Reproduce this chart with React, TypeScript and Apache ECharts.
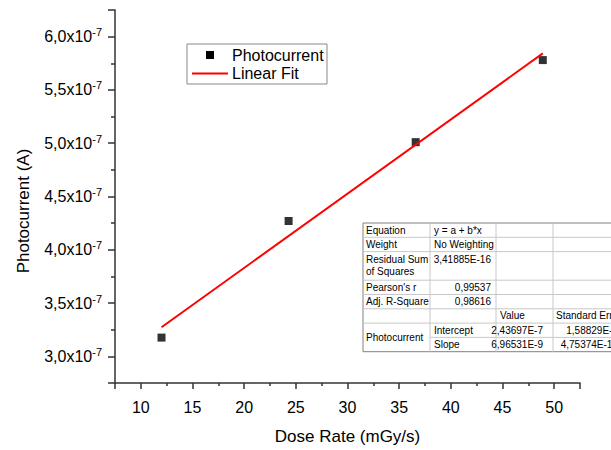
import React, { useEffect, useRef } from 'react';
import * as echarts from 'echarts';

const doseRate = [12, 24.3, 36.6, 48.9];
const photocurrent = [3.176e-7, 4.27e-7, 5.01e-7, 5.78e-7];
const fitDose = [12, 48.9];
const fitCurrent = [3.273e-7, 5.843e-7];
const legendNames = ['Photocurrent', 'Linear Fit'];
const xTitle = 'Dose Rate (mGy/s)';
const yTitle = 'Photocurrent (A)';
const statLabels = ['Equation', 'Weight', 'Residual Sum\nof Squares', "Pearson's r", 'Adj. R-Square'];
const statValues = ['y = a + b*x', 'No Weighting', '3,41885E-16', '0,99537', '0,98616'];
const paramHeader = ['Value', 'Standard Error'];
const paramGroup = 'Photocurrent';
const paramNames = ['Intercept', 'Slope'];
const paramValues = ['2,43697E-7', '6,96531E-9'];
const paramErrors = ['1,58829E-8', '4,75374E-10'];

const FONT = "Arial, 'Liberation Sans', sans-serif";

function buildTable(): any[] {
  const rows = [223, 237.3, 251.6, 280.2, 294.5, 308.8, 323.1, 337.4, 351.7];
  const cols = [363, 430, 496, 553, 640];
  const els: any[] = [];
  const inner = { stroke: '#c8c8c8', lineWidth: 1 };
  els.push({ type: 'rect', shape: { x: cols[0], y: rows[0], width: cols[4] - cols[0], height: rows[8] - rows[0] }, style: { fill: '#fff', stroke: '#808080', lineWidth: 1 }, z: 10 });
  for (let i = 1; i < rows.length - 1; i++) {
    const x0 = i === 7 ? cols[1] : cols[0];
    els.push({ type: 'line', shape: { x1: x0, y1: rows[i], x2: cols[4], y2: rows[i] }, style: inner, z: 11 });
  }
  for (let j = 1; j < 4; j++) {
    els.push({ type: 'line', shape: { x1: cols[j], y1: rows[0], x2: cols[j], y2: rows[8] }, style: inner, z: 11 });
  }
  const txt = (s: string, x: number, y: number, align: string = 'left', va: string = 'middle') => ({
    type: 'text', x, y, z: 12,
    style: { text: s, fill: '#000', font: `10px ${FONT}`, textAlign: align, textVerticalAlign: va, lineHeight: 12 },
  });
  for (let i = 0; i < statLabels.length; i++) {
    const top = rows[i], bot = rows[i + 1];
    const mid = (top + bot) / 2;
    els.push(txt(statLabels[i], cols[0] + 3, mid));
    const vy = i === 2 ? top + 7.5 : mid;
    if (i < 2) els.push(txt(statValues[i], cols[1] + 4, vy));
    else els.push(txt(statValues[i], cols[2] - 5, vy, 'right'));
  }
  const hm = (rows[5] + rows[6]) / 2;
  els.push(txt(paramHeader[0], cols[2] + 4, hm));
  els.push(txt(paramHeader[1], cols[3] + 3, hm));
  els.push(txt(paramGroup, cols[0] + 3, rows[7]));
  for (let k = 0; k < paramNames.length; k++) {
    const m = (rows[6 + k] + rows[7 + k]) / 2;
    els.push(txt(paramNames[k], cols[1] + 4, m));
    els.push(txt(paramValues[k], cols[3] - 10, m, 'right'));
    els.push(txt(paramErrors[k], 618, m, 'right'));
  }
  return els;
}

function buildLegend(): any[] {
  return [
    { type: 'rect', shape: { x: 187, y: 44, width: 140, height: 40 }, style: { fill: '#fff', stroke: '#888', lineWidth: 1 }, z: 10 },
    { type: 'rect', shape: { x: 206, y: 51, width: 8, height: 8 }, style: { fill: '#000' }, z: 11 },
    { type: 'text', x: 232, y: 55, z: 11, style: { text: legendNames[0], font: `16px ${FONT}`, fill: '#000', textVerticalAlign: 'middle' } },
    { type: 'line', shape: { x1: 192, y1: 73.5, x2: 228, y2: 73.5 }, style: { stroke: '#ff0000', lineWidth: 2 }, z: 11 },
    { type: 'text', x: 232, y: 73.5, z: 11, style: { text: legendNames[1], font: `16px ${FONT}`, fill: '#000', textVerticalAlign: 'middle' } },
  ];
}

export default function App() {
  const ref = useRef<HTMLDivElement>(null);
  useEffect(() => {
    if (!ref.current) return;
    const chart = echarts.init(ref.current, null, { renderer: 'svg' });
    const axisColor = '#333';
    chart.setOption({
      animation: false,
      backgroundColor: '#fff',
      grid: { left: 115, right: 31, top: 10, bottom: 62, containLabel: false },
      xAxis: {
        type: 'value', min: 7.5, max: 52.5, splitNumber: 9,
        name: xTitle, nameLocation: 'middle', nameGap: 45,
        nameTextStyle: { fontSize: 17, fontFamily: FONT, color: '#000' },
        axisLine: { show: true, onZero: false, lineStyle: { color: axisColor, width: 1.5 } },
        axisTick: { show: true, length: 6, inside: false, lineStyle: { color: axisColor, width: 1.5 } },
        minorTick: { show: true, splitNumber: 2, length: 3, lineStyle: { color: axisColor, width: 1.5 } },
        splitLine: { show: false },
        axisLabel: {
          margin: 16, fontSize: 16, fontFamily: FONT, color: '#000', showMinLabel: false, showMaxLabel: false,
          formatter: (v: number) => (Math.abs(v / 5 - Math.round(v / 5)) < 1e-6 ? String(Math.round(v)) : ''),
        },
      },
      yAxis: {
        type: 'value', min: 2.75e-7, max: 6.25e-7, splitNumber: 7,
        axisLine: { show: true, onZero: false, lineStyle: { color: axisColor, width: 1.5 } },
        axisTick: { show: true, length: 7, inside: false, lineStyle: { color: axisColor, width: 1.5 } },
        minorTick: { show: true, splitNumber: 2, length: 4, lineStyle: { color: axisColor, width: 1.5 } },
        splitLine: { show: false },
        axisLabel: {
          margin: 13, color: '#000', showMinLabel: false, showMaxLabel: false,
          formatter: (v: number) => {
            const m = v / 1e-7;
            if (Math.abs(m * 2 - Math.round(m * 2)) > 1e-4) return '';
            return `{m|${m.toFixed(1).replace('.', ',')}x10}{s|-7}`;
          },
          rich: {
            m: { fontSize: 16, fontFamily: FONT, color: '#000' },
            s: { fontSize: 11, fontFamily: FONT, color: '#000', padding: [0, 0, 9, 0] },
          },
        },
      },
      series: [
        {
          name: legendNames[0], type: 'scatter', symbol: 'rect', symbolSize: 8,
          itemStyle: { color: '#000' }, z: 2,
          data: doseRate.map((d, i) => [d, photocurrent[i]]),
        },
        {
          name: legendNames[1], type: 'line', showSymbol: false, z: 3,
          lineStyle: { color: '#ff0000', width: 2 },
          data: fitDose.map((d, i) => [d, fitCurrent[i]]),
        },
      ],
      graphic: [
        {
          type: 'text', x: 23, y: 211, rotation: Math.PI / 2, z: 5,
          style: { text: yTitle, font: `17px ${FONT}`, fill: '#000', textAlign: 'center', textVerticalAlign: 'middle' },
        },
        ...buildLegend(),
        ...buildTable(),
      ],
    });
    return () => chart.dispose();
  }, []);
  return <div ref={ref} style={{ position: 'fixed', left: 0, top: 0, width: 611, height: 450, background: '#fff' }} />;
}
